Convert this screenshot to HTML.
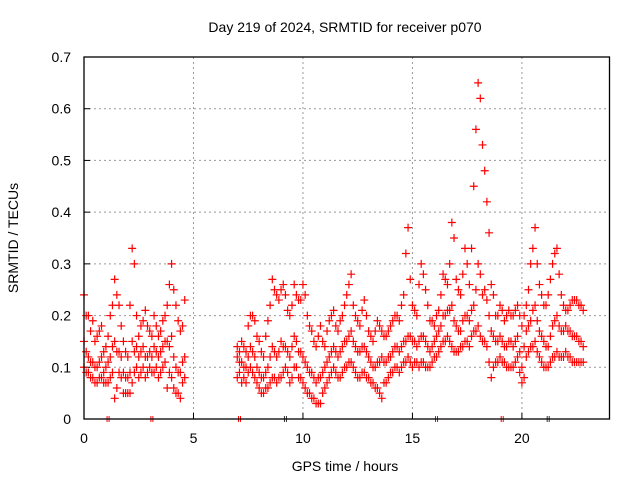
<!DOCTYPE html>
<html><head><meta charset="utf-8"><style>
body{margin:0;background:#fff}
svg{display:block;font-family:"Liberation Sans",sans-serif}
</style></head><body>
<svg id="c" width="640" height="480">
<text x="345" y="32" font-size="14" text-anchor="middle" fill="#000">Day 219 of 2024, SRMTID for receiver p070</text>
<text x="345" y="471" font-size="14" text-anchor="middle">GPS time / hours</text>
<text transform="translate(18,238) rotate(-90)" font-size="14" text-anchor="middle">SRMTID / TECUs</text>
<g id="grid"></g><g id="marks"></g>
<rect x="84" y="57" width="525.5" height="362" fill="none" stroke="#000" stroke-width="1.3"/>
</svg>
<script>
const hours=[0,0.2,0.4,0.6,0.8,1.0,1.2,1.4,1.6,1.8,2.0,2.2,2.4,2.6,2.8,3.0,3.2,3.4,3.6,3.8,4.0,4.2,4.4,4.6,
7.0,7.2,7.4,7.6,7.8,8.0,8.2,8.4,8.6,8.8,9.0,9.2,9.4,9.6,9.8,10.0,10.2,10.4,10.6,10.8,11.0,11.2,11.4,11.6,11.8,12.0,12.2,12.4,12.6,12.8,13.0,13.2,13.4,13.6,13.8,14.0,14.2,14.4,14.6,14.8,15.0,15.2,15.4,15.6,15.8,16.0,16.2,16.4,16.6,16.8,17.0,17.2,17.4,17.6,17.8,18.0,18.2,18.4,18.6,18.8,19.0,19.2,19.4,19.6,19.8,20.0,20.2,20.4,20.6,20.8,21.0,21.2,21.4,21.6,21.8,22.0,22.2,22.4,22.6,22.8];
const tecHigh=[.24,.20,.19,.16,.18,.14,.20,.27,.22,.15,.12,.33,.20,.18,.21,.17,.20,.16,.19,.22,.30,.22,.17,.23,
.14,.15,.13,.20,.19,.15,.12,.19,.27,.24,.25,.24,.20,.26,.23,.26,.20,.17,.14,.18,.14,.19,.21,.17,.20,.24,.28,.20,.18,.23,.17,.15,.19,.17,.16,.18,.20,.19,.24,.37,.22,.20,.30,.25,.19,.18,.21,.28,.26,.38,.27,.24,.33,.26,.45,.65,.53,.42,.26,.20,.22,.19,.21,.20,.22,.18,.22,.30,.37,.26,.22,.24,.30,.33,.24,.21,.22,.23,.22,.21];
const tecMid=[.15,.12,.11,.10,.12,.10,.12,.15,.13,.09,.08,.15,.14,.13,.12,.13,.14,.12,.14,.15,.16,.10,.09,.12,
.12,.11,.10,.14,.12,.09,.08,.10,.14,.12,.15,.14,.12,.16,.13,.12,.10,.09,.07,.08,.10,.12,.14,.12,.14,.15,.17,.14,.13,.14,.12,.10,.11,.12,.11,.12,.14,.13,.15,.16,.15,.14,.16,.15,.13,.15,.17,.20,.21,.22,.18,.17,.20,.19,.22,.30,.24,.23,.17,.15,.16,.14,.15,.14,.16,.10,.17,.19,.22,.17,.15,.14,.18,.20,.17,.18,.17,.16,.15,.14];
const tecLow=[.10,.09,.08,.07,.08,.07,.08,.04,.09,.05,.05,.07,.10,.09,.08,.10,.09,.08,.10,.06,.08,.05,.04,.08,
.08,.07,.07,.10,.08,.06,.05,.06,.08,.07,.08,.10,.07,.10,.08,.07,.05,.04,.03,.03,.06,.08,.10,.08,.09,.10,.11,.09,.08,.09,.08,.07,.06,.04,.07,.09,.10,.09,.11,.12,.10,.11,.11,.10,.10,.12,.13,.15,.16,.14,.13,.14,.15,.14,.17,.18,.15,.14,.08,.11,.12,.11,.10,.10,.12,.07,.12,.14,.15,.12,.10,.10,.12,.13,.12,.13,.12,.11,.11,.11];
const hours2=[0.1,0.3,0.5,0.7,0.9,1.1,1.3,1.5,1.7,1.9,2.1,2.3,2.5,2.7,2.9,3.1,3.3,3.5,3.7,3.9,4.1,4.3,4.5,
7.1,7.3,7.5,7.7,7.9,8.1,8.3,8.5,8.7,8.9,9.1,9.3,9.5,9.7,9.9,10.1,10.3,10.5,10.7,10.9,11.1,11.3,11.5,11.7,11.9,12.1,12.3,12.5,12.7,12.9,13.1,13.3,13.5,13.7,13.9,14.1,14.3,14.5,14.7,14.9,15.1,15.3,15.5,15.7,15.9,16.1,16.3,16.5,16.7,16.9,17.1,17.3,17.5,17.7,17.9,18.1,18.3,18.5,18.7,18.9,19.1,19.3,19.5,19.7,19.9,20.1,20.3,20.5,20.7,20.9,21.1,21.3,21.5,21.7,21.9,22.1,22.3,22.5,22.7];
const tecHigh2=[.20,.17,.15,.17,.13,.16,.22,.24,.18,.13,.22,.30,.16,.19,.18,.16,.18,.17,.20,.26,.25,.19,.18,
.13,.14,.18,.20,.16,.13,.16,.22,.25,.23,.26,.21,.22,.24,.23,.24,.18,.15,.16,.15,.17,.20,.18,.19,.22,.26,.22,.19,.21,.20,.16,.17,.18,.16,.17,.19,.20,.22,.32,.27,.21,.26,.28,.22,.19,.20,.24,.27,.30,.35,.25,.28,.30,.33,.56,.62,.48,.36,.24,.20,.21,.20,.20,.21,.20,.20,.25,.33,.30,.24,.22,.27,.32,.28,.22,.21,.23,.23,.22];
const tecMid2=[.13,.11,.10,.11,.09,.11,.14,.13,.12,.08,.09,.13,.12,.14,.12,.12,.13,.13,.15,.14,.12,.09,.11,
.11,.10,.12,.13,.10,.08,.09,.12,.13,.13,.14,.13,.14,.15,.13,.11,.09,.08,.08,.09,.11,.13,.13,.13,.15,.16,.15,.13,.14,.13,.11,.10,.11,.11,.12,.13,.14,.14,.15,.16,.15,.15,.16,.14,.14,.16,.18,.20,.21,.19,.17,.19,.20,.21,.25,.28,.25,.20,.16,.15,.15,.14,.15,.15,.13,.14,.18,.21,.19,.16,.14,.16,.19,.18,.17,.17,.16,.16,.15];
const tecLow2=[.09,.08,.07,.08,.07,.07,.09,.06,.08,.05,.05,.09,.08,.10,.09,.09,.10,.09,.11,.09,.06,.05,.07,
.09,.08,.09,.09,.07,.05,.06,.07,.08,.08,.09,.09,.08,.10,.08,.06,.05,.04,.03,.05,.07,.09,.09,.08,.10,.11,.10,.08,.09,.08,.07,.06,.05,.07,.08,.09,.10,.10,.11,.11,.11,.10,.11,.10,.11,.12,.14,.15,.15,.13,.13,.14,.15,.16,.17,.16,.15,.11,.10,.11,.11,.10,.10,.11,.09,.08,.13,.14,.13,.11,.10,.11,.12,.12,.12,.12,.11,.11,.11];
const gapRed=[1.1,3.1,7.1,16.1,19.1];
const gapBlack=[9.2,21.2];
const xTicks=[0,5,10,15,20];
const yTicks=[0,0.1,0.2,0.3,0.4,0.5,0.6,0.7];
const yLabels=["0","0.1","0.2","0.3","0.4","0.5","0.6","0.7"];
const X0=84,X1=609.5,Y0=419,Y1=57;
const xs=h=>X0+h/24*(X1-X0);
const ys=v=>Y0-v/0.7*(Y0-Y1);
const NS="http://www.w3.org/2000/svg";
const grid=document.getElementById('grid'),marks=document.getElementById('marks');
function mk(tag,attrs,parent){const e=document.createElementNS(NS,tag);for(const k in attrs)e.setAttribute(k,attrs[k]);parent.appendChild(e);return e;}
xTicks.forEach(t=>{const x=xs(t);
 if(t>0){const l=mk('line',{x1:x,x2:x,y1:Y1,y2:Y0,stroke:'#999','stroke-dasharray':'2,3'},grid);
 
 }
 const tk=mk('line',{x1:x,x2:x,y1:Y0,y2:Y0-6,stroke:'#000'},grid);
 
 
 const tx=mk('text',{x:x,y:Y0+24,'font-size':14,'text-anchor':'middle'},grid);tx.textContent=t;
 
 
});
yTicks.forEach((t,i)=>{const y=ys(t);
 if(t>0&&t<0.7){const l=mk('line',{x1:X0,x2:X1,y1:y,y2:y,stroke:'#999','stroke-dasharray':'2,3'},grid);
 
 }
 const tk=mk('line',{x1:X0,x2:X0+6,y1:y,y2:y,stroke:'#000'},grid);
 
 
 const tx=mk('text',{x:X0-13,y:y+5,'font-size':14,'text-anchor':'end'},grid);tx.textContent=yLabels[i];
 
 
});
function plus(h,v,color){const x=xs(h),y=ys(v);
 const p=mk('path',{d:`M${x-4},${y}H${x+4}M${x},${y-4}V${y+4}`,stroke:color,'stroke-width':1.2,fill:'none'},marks);
 
 }
hours.forEach((h,i)=>{plus(h,tecLow[i],'red');plus(h,tecMid[i],'red');plus(h,tecHigh[i],'red');});
hours2.forEach((h,i)=>{plus(h,tecLow2[i],'red');plus(h,tecMid2[i],'red');plus(h,tecHigh2[i],'red');});
gapRed.forEach(h=>{const x=xs(h);
 const p=mk('path',{d:`M${x-1},${Y0-3}V${Y0+3}M${x+1},${Y0-3}V${Y0+3}`,stroke:'red','stroke-width':1},marks);
 
 });
gapBlack.forEach(h=>{const x=xs(h);
 const p=mk('path',{d:`M${x-1},${Y0-3}V${Y0+3}M${x+1},${Y0-3}V${Y0+3}`,stroke:'#333','stroke-width':1},marks);
 
 });
</script>
</body></html>
